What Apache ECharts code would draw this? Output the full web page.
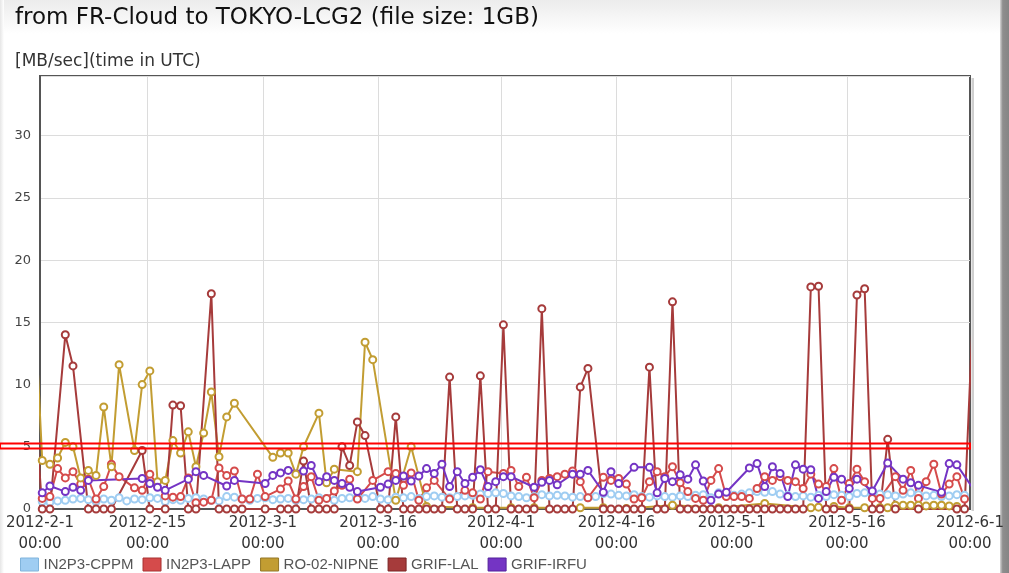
<!DOCTYPE html>
<html>
<head>
<meta charset="utf-8">
<script src="https://cdn.jsdelivr.net/npm/echarts@6/dist/echarts.min.js"></script>
<style>
html, body { margin: 0; padding: 0; background: #fff; }
#chart { width: 1009px; height: 573px; }
</style>
</head>
<body>
<div id="chart"></div>
<script>
// one reading per day, first entry is 2012-1-31 (points sit ~07:00 UTC)
const firstDay = Date.UTC(2012, 0, 31, 7)
const DAY = 86400000

const tickLabels = ['2012-2-1', '2012-2-15', '2012-3-1', '2012-3-16', '2012-4-1', '2012-4-16', '2012-5-1', '2012-5-16', '2012-6-1']

const seriesNames  = ['IN2P3-CPPM', 'IN2P3-LAPP', 'RO-02-NIPNE', 'GRIF-LAL', 'GRIF-IRFU']
const seriesColors = ['#9fcdf2', '#d54b4b', '#c29d32', '#a63b3b', '#7434c4']
const legendBorders = ['#80b4dc', '#a83232', '#937626', '#7a2424', '#52209a']

const cppm = [null,
  0.6, 0.55, 0.65, 0.7, 0.8, 0.85, 0.75, 0.6, 0.8, 0.7,
  0.9, 0.65, 0.8, 0.75, 0.9, 0.85, 0.6, 0.75, 0.7, 0.85,
  0.9, 0.8, 0.7, 0.65, 1.0, 0.95, 0.8, 0.7, 0.85, 0.9,
  0.75, 0.8, 0.85, 0.7, 0.75, 0.8, 0.9, 0.85, 0.7, 0.85,
  0.9, 0.95, 0.85, 1.0, 0.8, 0.75, 0.95, 0.9, 1.0, 0.85,
  1.0, 1.05, 0.95, 0.9, 1.0, 1.05, 1.1, 1.2, 1.25, 1.3,
  1.25, 1.05, 1.0, 0.9, 1.0, 1.15, 1.05, 1.1, 1.05, 0.95,
  1.0, 0.9, 1.0, 1.25, 1.2, 1.1, 1.05, 1.15, 1.0, 0.95,
  1.05, 1.0, 0.95, 1.05, 1.0, 1.1, 1.15, 0.9, 1.3, 1.25,
  1.1, 1.2, 1.3, 1.4, 1.35, 1.4, 1.2, 1.1, 1.0, 1.05,
  0.95, 1.1, 1.0, 1.15, 1.1, 1.0, 1.25, 1.3, 1.1, 1.2,
  1.15, 1.05, 1.2, 1.3, 1.15, 1.05, 1.1, 1.0, 1.05, 1.15,
  1.1, null]

const lapp = [null,
  0.85, 1.0, 3.25, 2.5, 3.0, 2.0, 2.4, 0.8, 1.8, 3.6,
  2.6, null, 1.7, 1.5, 2.8, null, 1.05, 0.95, 1.0, 2.5,
  0.5, 0.55, 0.7, 3.3, 2.7, 3.05, 0.8, 0.8, 2.8, 1.0,
  null, 1.6, 2.25, 0.8, 1.8, 2.6, 0.7, 0.85, 1.45, 1.9,
  2.4, 0.8, null, 2.3, null, 3.0, 2.85, 1.9, 2.9, 0.7,
  1.7, 2.3, null, 0.8, null, 1.5, 1.3, 0.8, 3.0, null,
  2.85, 3.1, 1.8, 2.55, 0.9, 2.3, 2.45, 2.6, 2.8, 3.05,
  2.2, 0.9, null, 2.55, 2.3, 2.45, 2.0, 0.8, 0.9, 2.2,
  3.0, 2.6, 3.4, 2.1, 1.4, 0.85, 0.7, 2.3, 3.25, 1.0,
  1.0, 1.0, 0.85, 1.65, 2.6, 2.3, 2.6, 2.3, 2.2, 1.65,
  2.8, 2.0, 1.8, 3.25, 0.7, 2.05, 3.2, 2.2, 0.85, 0.85,
  null, 2.6, 1.5, 3.1, 0.85, 2.2, 3.6, 1.2, 2.0, 2.6,
  0.8, null]

const nipne = [16.5,
  3.9, 3.6, 4.1, 5.35, 5.0, 2.5, 3.1, 2.7, 8.2, 3.4,
  11.6, null, 4.7, 10.0, 11.1, 2.2, 2.3, 5.5, 4.5, 6.2,
  3.4, 6.1, 9.4, 4.2, 7.4, 8.5, null, null, null, null,
  4.15, 4.5, 4.5, 2.8, 5.0, null, 7.7, 2.1, 3.2, null,
  null, 3.0, 13.4, 12.0, null, null, 0.7, null, 5.0, null,
  0.2, null, null, null, null, null, 0.1, null, null, null,
  null, 0.1, null, null, 0.1, null, null, null, null, null,
  0.1, null, null, 0.1, null, null, 0.05, null, null, null,
  null, null, 0.3, null, null, null, null, null, 0.1, null,
  null, null, null, null, 0.45, null, null, null, null, null,
  0.1, 0.15, null, 0.2, null, 0.1, null, 0.1, null, 0.1,
  0.1, 0.3, 0.3, 0.3, 0.3, 0.25, 0.3, 0.3, 0.25, 0.2,
  null, null]

const lal = [8.7,
  0, 0, null, 14.0, 11.5, null, 0, 0, 0, 0,
  null, null, null, 4.7, 0, null, 0, 8.35, 8.3, 0,
  0, null, 17.3, 0, 0, 0, 0, null, null, 0,
  null, 0, 0, 0, 3.85, 0, 0, 0, 0, 5.0,
  3.5, 7.0, 5.9, null, 0, 0, 7.4, 0, 0, 0,
  0, 0, 0, 10.6, 0, 0, 0, 10.7, 0, 0,
  14.8, 0, 0, 0, 0, 16.1, 0, 0, 0, 0,
  9.8, 11.3, null, 0, 0, 0, 0, 0, 0, 11.4,
  0, 0, 16.65, 0, 0, 0, 0, 0, 0, 0,
  0, 0, 0, 0, 0, 0, 0, 0, 0, 0,
  17.85, 17.9, 0, 0, null, 0, 17.2, 17.7, 0, 0,
  5.6, 0, null, null, 0, null, null, null, null, 0,
  0, 14.5]

const irfu = [null,
  1.3, 1.85, null, 1.4, 1.75, 1.5, 2.3, null, null, null,
  null, null, null, 2.45, 2.05, 1.75, 1.5, null, null, 2.4,
  3.0, 2.7, null, null, 1.85, 2.3, null, null, null, 2.05,
  2.7, 2.9, 3.1, null, 3.05, 3.5, 2.2, 2.6, 2.3, 2.05,
  1.75, 1.4, null, null, 1.75, 2.0, 2.3, 2.65, 2.25, 2.65,
  3.25, 2.85, 3.6, 1.8, 3.0, 2.05, 2.55, 3.15, 1.8, 2.2,
  2.6, 2.6, null, null, 1.75, 2.15, 2.3, 1.95, null, 2.8,
  2.8, 3.1, null, 1.35, 3.0, 2.05, null, 3.35, null, 3.35,
  1.3, 2.45, 2.2, 2.75, 2.4, 3.55, 2.25, 0.7, 1.2, 1.35,
  null, null, 3.3, 3.65, 1.8, 3.4, 2.85, 1.0, 3.55, 3.2,
  3.15, 0.85, 1.4, 2.55, 2.4, 1.65, 2.4, null, 1.45, null,
  3.7, null, 2.4, 2.1, 1.9, null, null, 1.35, 3.65, 3.55,
  null, 1.75]

// the red band drawn around the 5 MB/sec level
const bandTop = 5.26
const bandBottom = 4.87

const allValues = [cppm, lapp, nipne, lal, irfu]
const tickTimes = tickLabels.map(s => { const [y, m, d] = s.split('-').map(Number); return Date.UTC(y, m - 1, d) })
const innerTicks = tickTimes.slice(1, -1) // grid lines only inside the frame
const toPairs = vals => vals.map((v, k) => [firstDay + k * DAY, v])

const chart = echarts.init(document.getElementById('chart'), null, { renderer: 'canvas' })

chart.setOption({
  animation: false,
  backgroundColor: '#fff',
  title: [
    { text: 'from FR-Cloud to TOKYO-LCG2 (file size: 1GB)', left: 15, top: 7, padding: 0,
      textStyle: { fontFamily: '"DejaVu Sans", sans-serif', fontSize: 23, fontWeight: 'normal', color: '#111' } },
    { text: '[MB/sec](time in UTC)', left: 15, top: 53, padding: 0,
      textStyle: { fontFamily: '"DejaVu Sans", sans-serif', fontSize: 17, fontWeight: 'normal', color: '#333' } },
  ],
  grid: { left: 40, right: 39, top: 76, bottom: 64, show: true, borderColor: '#555', borderWidth: 2, outerBoundsMode: 'none' },
  legend: {
    left: 20, top: 557, padding: 0, itemWidth: 18, itemHeight: 13, itemGap: 9,
    textStyle: { fontFamily: '"Liberation Sans", Arial, sans-serif', fontSize: 15, color: '#555' },
    data: seriesNames.map((n, i) => ({ name: n, icon: 'rect',
      itemStyle: { color: seriesColors[i], borderColor: legendBorders[i], borderWidth: 1 } })),
  },
  xAxis: {
    type: 'value', min: tickTimes[0], max: tickTimes[tickTimes.length - 1],
    axisLine: { show: true, lineStyle: { color: '#555', width: 2 } },
    axisTick: { show: false, customValues: innerTicks },
    axisLabel: {
      customValues: tickTimes, margin: 4, lineHeight: 21,
      fontFamily: '"DejaVu Sans", sans-serif', fontSize: 15, color: '#333',
      formatter: val => {
        const k = tickTimes.findIndex(t => Math.abs(t - val) < 60000)
        return k >= 0 ? tickLabels[k] + '\n00:00' : ''
      },
    },
    splitLine: { show: true, lineStyle: { color: '#dcdcdc', width: 1 } },
  },
  yAxis: {
    type: 'value', min: 0, max: 34.8, interval: 5,
    axisLine: { show: true, lineStyle: { color: '#555', width: 2 } },
    axisTick: { show: false },
    axisLabel: { showMaxLabel: false, margin: 9, fontFamily: '"DejaVu Sans", sans-serif', fontSize: 13, color: '#444' },
    splitLine: { show: true, lineStyle: { color: '#dcdcdc', width: 1 } },
  },
  series: seriesNames.map((n, i) => ({
    name: n, type: 'line', data: toPairs(allValues[i]), connectNulls: true,
    symbol: 'circle', symbolSize: 7, showAllSymbol: true,
    lineStyle: { color: seriesColors[i], width: 2 },
    itemStyle: { color: '#fff', borderColor: seriesColors[i], borderWidth: 2 },
    emphasis: { disabled: true },
  })),
})

// page decorations + red 5 MB/sec band, placed through the axis scales
const yTop = chart.convertToPixel({ yAxisIndex: 0 }, bandTop)
const yBot = chart.convertToPixel({ yAxisIndex: 0 }, bandBottom)
const xEnd = chart.convertToPixel({ xAxisIndex: 0 }, tickTimes[tickTimes.length - 1])
const yGridTop = chart.convertToPixel({ yAxisIndex: 0 }, 34.8)
const yGridBot = chart.convertToPixel({ yAxisIndex: 0 }, 0)

chart.setOption({
  graphic: [
    { type: 'rect', z: -10, shape: { x: 0, y: 0, width: 1009, height: 34 },
      style: { fill: new echarts.graphic.LinearGradient(0, 0, 0, 1, [{ offset: 0, color: '#ececec' }, { offset: 1, color: '#ffffff' }]) } },
    { type: 'rect', z: -10, shape: { x: 0, y: 0, width: 4, height: 573 },
      style: { fill: new echarts.graphic.LinearGradient(0, 0, 1, 0, [{ offset: 0, color: '#e6e6e6' }, { offset: 1, color: '#ffffff' }]) } },
    { type: 'rect', z: -10, shape: { x: 1000, y: 0, width: 9, height: 573 },
      style: { fill: new echarts.graphic.LinearGradient(0, 0, 1, 0, [{ offset: 0, color: '#d6d6d6' }, { offset: 0.3, color: '#8e8e8e' }, { offset: 1, color: '#858585' }]) } },
    { type: 'rect', z: 50, shape: { x: xEnd + 1.5, y: yGridTop + 2, width: 2.5, height: yGridBot - yGridTop },
      style: { fill: '#cfcfcf' } },
    { type: 'rect', z: 100, shape: { x: 0, y: yTop, width: xEnd, height: yBot - yTop },
      style: { fill: 'none', stroke: '#ff0000', lineWidth: 2 } },
  ],
})
</script>
</body>
</html>
